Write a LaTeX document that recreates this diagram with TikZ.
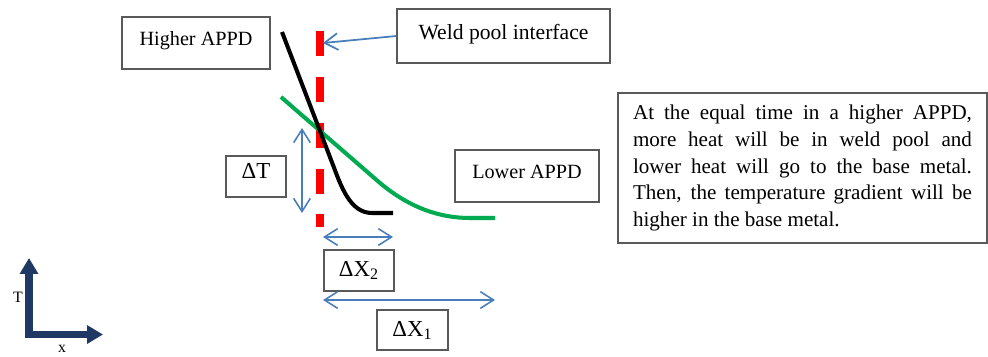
\documentclass[tikz,border=0pt]{standalone}
\usepackage{fontspec}
\setmainfont{Liberation Serif}
\usepackage{tikz}
\usetikzlibrary{arrows.meta}
\usetikzlibrary{calc}

\definecolor{linkblue}{RGB}{74,126,187}
\definecolor{axisnavy}{RGB}{31,56,100}
\definecolor{curvegreen}{RGB}{0,170,80}

\tikzstyle{tag}=[
        draw=black!65,
        line width=0.8pt,
        fill=white,
        inner sep=2pt,
        text height=8pt,
        font=\fontsize{11.5}{14}\selectfont
]
\tikzstyle{delta}=[tag,font=\fontsize{13}{15}\selectfont]
\tikzstyle{note}=[draw=black!65,line width=0.8pt,fill=white,align=justify,
text width=6.78cm,inner xsep=0.3cm,minimum height=3cm,
font=\fontsize{12}{15.3}\selectfont]
\tikzstyle{axislabel}=[inner sep=0pt,font=\fontsize{9}{10}\selectfont]
\tikzstyle{dim}=[{Straight Barb[length=7.5pt,width=9.5pt]}-{Straight Barb[length=7.5pt,width=9.5pt]},
draw=linkblue,line width=0.9pt]
\tikzstyle{pointer}=[-{Straight Barb[length=7.5pt,width=9.5pt]},draw=linkblue,line width=1pt]
\tikzstyle{axis}=[{Triangle[length=9pt,width=10pt]}-{Triangle[length=9pt,width=10pt]},
draw=axisnavy,line width=4pt,line join=miter]

\begin{document}
\begin{tikzpicture}[x=0.02cm,y=-0.02cm]
\useasboundingbox (0,0) rectangle (988,356);
% interface line and the two profiles
\coordinate (ptop) at (320,31);
\coordinate (pbot) at (320,227);
\draw[red,line width=4pt,dash pattern=on 14.2pt off 11.9pt] (ptop) -- (pbot);
\draw[curvegreen,line width=2.3pt] (281,97) -- (380,183) .. controls (410,208) and (440,218) .. (470,218) -- (495,218);
\draw[black,line width=2.3pt] (282,32) -- (333,165) .. controls (341,186) and (350,213) .. (372,213) -- (393,213);
% labels
\node[tag,minimum width=2.96cm,minimum height=1.04cm,text depth=5pt] (higher) at (196,43) {Higher APPD};
\node[tag,font=\fontsize{12.3}{14}\selectfont,minimum width=4.26cm,minimum height=1.08cm,text depth=4pt] (weld) at (503.5,36) {Weld pool interface};
\node[tag,minimum width=2.88cm,minimum height=1.04cm,text depth=5pt] (lower) at (527,176) {Lower APPD};
\node[delta,minimum width=1.2cm,minimum height=0.82cm,text depth=6pt] (dT) at (256,176.5) {ΔT};
\node[delta,minimum width=1.4cm,minimum height=0.82cm,text depth=1pt] (dXtwo) at (359,270.5) {ΔX\textsubscript{2}};
\node[delta,minimum width=1.42cm,minimum height=0.8cm,text depth=1pt] (dXone) at (412.5,330) {ΔX\textsubscript{1}};
\node[note] (remark) at (802.5,168) {At the equal time in a higher APPD,\linebreak
more heat will be in weld pool and\linebreak
lower heat will go to the base metal.\linebreak
Then, the temperature gradient will be\linebreak
higher in the base metal.};
%Drawing arrows
\coordinate (iface) at (323,43);
\draw[pointer] (weld.west) -- (iface);
\coordinate (tTop) at (302,128);
\coordinate (tBot) at (302,213);
\draw[dim] (tTop) -- (tBot);
\coordinate (xtwoL) at (323,237);
\coordinate (xtwoR) at (393,237);
\draw[dim] (xtwoL) -- (xtwoR);
\coordinate (xoneL) at (323,300);
\coordinate (xoneR) at (495,300);
\draw[dim] (xoneL) -- (xoneR);
% axes
\coordinate (org) at (29,334.5);
\coordinate (tTip) at (29,258);
\coordinate (xTip) at (103,334.5);
\draw[axis] (tTip) -- (org) -- (xTip);
\node[axislabel] (tname) at (18,297) {T};
\node[axislabel] (xname) at (62,349) {x};
\end{tikzpicture}
\end{document}
